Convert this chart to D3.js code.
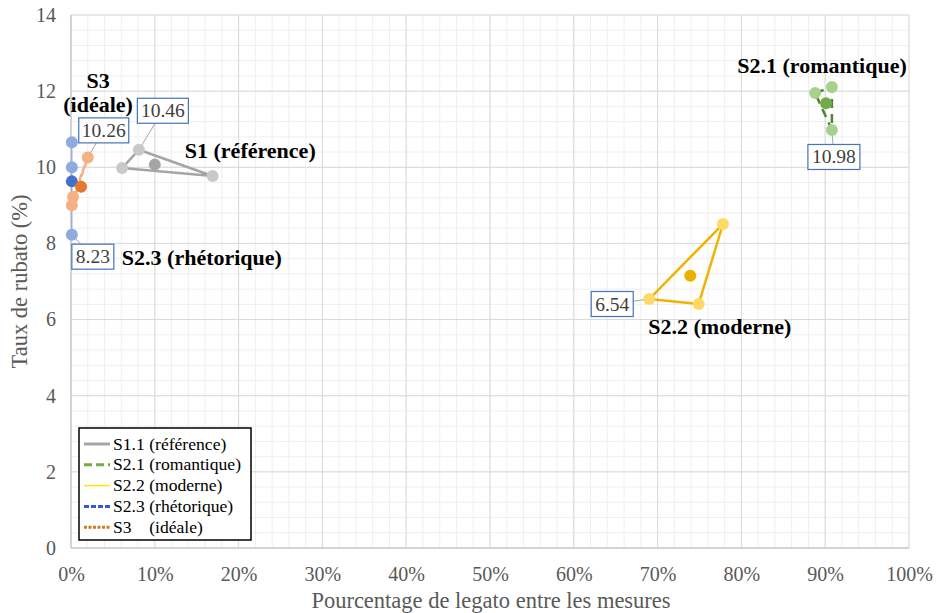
<!DOCTYPE html>
<html><head><meta charset="utf-8">
<script src="https://cdn.jsdelivr.net/npm/d3@7"></script>
<style>body{margin:0;background:#fff}svg{display:block}text{font-family:"Liberation Serif","Times New Roman",serif}</style>
</head><body><svg id="c" width="937" height="613"></svg>
<script>
// ---- data ----
const xTicks = [0,10,20,30,40,50,60,70,80,90,100];
const yTicks = [0,2,4,6,8,10,12,14];
const seriesNames = ["S1.1 (référence)","S2.1 (romantique)","S2.2 (moderne)","S2.3 (rhétorique)","S3    (idéale)"];
const s1X = [6.1, 8.1, 16.9],   s1Y = [9.98, 10.46, 9.77];
const s21X = [88.8, 90.8, 90.8], s21Y = [11.95, 12.11, 10.98];
const s22X = [69.0, 77.8, 74.9], s22Y = [6.54, 8.51, 6.41];
const s23X = [0.1, 0.1, 0.1],    s23Y = [10.66, 10.0, 8.23];
const s3X = [2.0, 0.25, 0.1],    s3Y = [10.26, 9.22, 9.0];
const meanX = [10.0, 90.1, 73.9, 0.1, 1.2];
const meanY = [10.07, 11.68, 7.15, 9.63, 9.49];
const groupLabels = ["S1 (référence)","S2.1 (romantique)","S2.2 (moderne)","S2.3 (rhétorique)","S3"];

// ---- styles ----
const styles = [
  {pt:"#c9c9c9", mean:"#a5a5a5", line:"#a5a5a5", dash:null, w:2.5, lg:"#a6a6a6", lgDash:null, lgW:3},
  {pt:"#a9d18e", mean:"#70ad47", line:"#548235", dash:"9,6", w:2.5, lg:"#70ad47", lgDash:"8,4", lgW:3},
  {pt:"#ffd966", mean:"#ecb100", line:"#f0b400", dash:null, w:2.5, lg:"#ffe600", lgDash:null, lgW:1.5},
  {pt:"#8faadc", mean:"#4472c4", line:"#8faadc", dash:"5,3", w:1.2, lg:"#2e5bd6", lgDash:"5,2", lgW:3},
  {pt:"#f4b183", mean:"#e4782f", line:"#f4b183", dash:"6,3", w:2.5, lg:"#c8811e", lgDash:"3,1.5", lgW:3}
];
const seriesX = [s1X, s21X, s22X, s23X, s3X];
const seriesY = [s1Y, s21Y, s22Y, s23Y, s3Y];

const svg = d3.select("#c");
const x = d3.scaleLinear().domain([0,100]).range([71,909]);
const y = d3.scaleLinear().domain([0,14]).range([548,15]);

// grid
const g = svg.append("g");
g.selectAll(".mx").data(d3.range(0,100.01,2)).enter().append("line")
  .attr("x1",d=>x(d)).attr("x2",d=>x(d)).attr("y1",y(0)).attr("y2",y(14))
  .attr("stroke","#efefef").attr("stroke-width",1);
g.selectAll(".my").data(d3.range(0,14.01,0.4)).enter().append("line")
  .attr("y1",d=>y(d)).attr("y2",d=>y(d)).attr("x1",x(0)).attr("x2",x(100))
  .attr("stroke","#efefef").attr("stroke-width",1);
g.selectAll(".MX").data(xTicks).enter().append("line")
  .attr("x1",d=>x(d)).attr("x2",d=>x(d)).attr("y1",y(0)).attr("y2",y(14)).attr("stroke","#d9d9d9");
g.selectAll(".MY").data(yTicks).enter().append("line")
  .attr("y1",d=>y(d)).attr("y2",d=>y(d)).attr("x1",x(0)).attr("x2",x(100)).attr("stroke","#d9d9d9");
svg.append("line").attr("x1",x(0)).attr("x2",x(0)).attr("y1",y(0)).attr("y2",y(14)).attr("stroke","#bfbfbf");
svg.append("line").attr("x1",x(0)).attr("x2",x(100)).attr("y1",y(0)).attr("y2",y(0)).attr("stroke","#bfbfbf");

// axes via d3
const ax = svg.append("g").attr("transform",`translate(0,${y(0)})`)
  .call(d3.axisBottom(x).tickValues(xTicks).tickFormat(d=>d+"%").tickSize(0).tickPadding(19));
const ay = svg.append("g").attr("transform",`translate(${x(0)},0)`)
  .call(d3.axisLeft(y).tickValues(yTicks).tickFormat(d3.format("d")).tickSize(0).tickPadding(15));
[ax,ay].forEach(a=>{a.select(".domain").remove();
  a.selectAll("text").attr("font-size",20).attr("fill","#595959");});

svg.append("text").attr("x",491).attr("y",608).attr("text-anchor","middle")
  .attr("font-size",22.5).attr("fill","#595959").text("Pourcentage de legato entre les mesures");
svg.append("text").attr("transform",`translate(27,${(y(0)+y(14))/2}) rotate(-90)`).attr("text-anchor","middle")
  .attr("font-size",22.5).attr("fill","#595959").text("Taux de rubato (%)");

// triangles
const line = d3.line().x(d=>x(d[0])).y(d=>y(d[1])).curve(d3.curveLinearClosed);
seriesX.forEach((xs,i)=>{
  const pts = xs.map((v,j)=>[v, seriesY[i][j]]);
  svg.append("path").attr("d",line(pts)).attr("fill","none")
    .attr("stroke",styles[i].line).attr("stroke-width",styles[i].w)
    .attr("stroke-dasharray",styles[i].dash).attr("stroke-linejoin","round");
});

// callouts (series index, point index, dx, dy, width)
const callouts = [[0,1,24,-39,51],[4,0,16,-27,50],[3,2,21,22,42],[1,2,2,27,52],[2,0,-37,5,42]];
const cg = svg.append("g");
callouts.forEach(([si,pi,dx,dy,w])=>{
  const px = x(seriesX[si][pi]), py = y(seriesY[si][pi]);
  cg.append("line").attr("x1",px).attr("y1",py).attr("x2",px+dx).attr("y2",py+dy)
    .attr("stroke","#a6a6a6").attr("stroke-width",1);
});

// markers
seriesX.forEach((xs,i)=>{
  svg.append("g").selectAll("circle").data(xs.map((v,j)=>[v,seriesY[i][j]])).enter().append("circle")
    .attr("cx",d=>x(d[0])).attr("cy",d=>y(d[1])).attr("r",6).attr("fill",styles[i].pt);
  svg.append("circle").attr("cx",x(meanX[i])).attr("cy",y(meanY[i])).attr("r",6).attr("fill",styles[i].mean);
});

// callout boxes
callouts.forEach(([si,pi,dx,dy,w])=>{
  const px = x(seriesX[si][pi]), py = y(seriesY[si][pi]);
  const cx = px+dx, cy = py+dy;
  cg.append("rect").attr("x",cx-w/2).attr("y",cy-12.5).attr("width",w).attr("height",25)
    .attr("fill","#fff").attr("stroke","#4472c4").attr("stroke-width",1.2);
  cg.append("text").attr("x",cx).attr("y",cy+6.5).attr("text-anchor","middle")
    .attr("font-size",19.5).attr("fill","#404040").text(seriesY[si][pi].toFixed(2));
});

// group labels (anchored to mean points with pixel offsets)
const labelOff = [[30,-7,"start"],[-4,-30,"middle"],[-42,58,"start"],[50,84,"start"],[17,-99,"middle"]];
groupLabels.forEach((t,i)=>{
  const [dx,dy,an] = labelOff[i];
  svg.append("text").attr("x",x(meanX[i])+dx).attr("y",y(meanY[i])+dy).attr("text-anchor",an)
    .attr("font-size",22).attr("font-weight","bold").attr("fill","#000").text(t);
});
svg.append("text").attr("x",x(meanX[4])+17).attr("y",y(meanY[4])-75).attr("text-anchor","middle")
  .attr("font-size",22).attr("font-weight","bold").text("(idéale)");

// legend
const lg = svg.append("g");
lg.append("rect").attr("x",79).attr("y",428).attr("width",172).attr("height",112)
  .attr("fill","#fff").attr("stroke","#000").attr("stroke-width",1.5);
seriesNames.forEach((n,i)=>{
  const cy = 444 + i*20.8;
  lg.append("line").attr("x1",84).attr("x2",110).attr("y1",cy).attr("y2",cy)
    .attr("stroke",styles[i].lg).attr("stroke-width",styles[i].lgW).attr("stroke-dasharray",styles[i].lgDash);
  lg.append("text").attr("x",113).attr("y",cy+5.5).attr("font-size",17.6).attr("fill","#000")
    .style("white-space","pre").text(n);
});
</script></body></html>
